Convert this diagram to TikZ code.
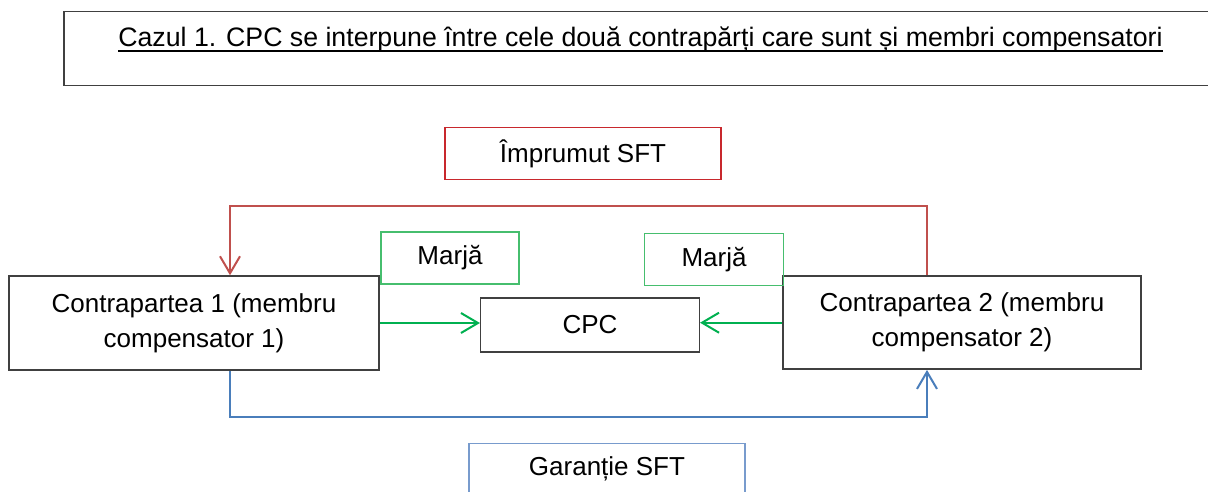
\documentclass[tikz,border=0pt]{standalone}
\usepackage{fontspec}
\setmainfont{Liberation Sans}
\usetikzlibrary{arrows.meta}

\definecolor{boxgray}{RGB}{64,64,64}
\definecolor{redbox}{RGB}{200,40,45}
\definecolor{redline}{RGB}{192,80,77}
\definecolor{greenbox}{RGB}{70,190,110}
\definecolor{greenline}{RGB}{0,176,80}
\definecolor{bluebox}{RGB}{120,155,205}
\definecolor{blueline}{RGB}{74,126,187}

\tikzset{
  box/.style={draw=boxgray, line width=1.5pt, inner sep=0pt, align=center,
              font=\fontsize{26}{35}\selectfont},
  redlabel/.style={box, draw=redbox},
  greenlabel/.style={box, draw=greenbox},
  bluelabel/.style={box, draw=bluebox},
  tip/.style={-{Straight Barb[length=17pt,width=20pt]}},
  redconn/.style={draw=redline, line width=2pt, tip},
  greenconn/.style={draw=greenline, line width=2pt, tip},
  blueconn/.style={draw=blueline, line width=2pt, tip},
}

\begin{document}
\begin{tikzpicture}[x=1pt, y=-1pt]
  \useasboundingbox (0,0) rectangle (1208,491);
  \clip (0,0) rectangle (1208,491);
  \fill[white] (0,0) rectangle (1208,491);

  % heading frame, running past the right edge
  \draw[boxgray, line width=1.5pt] (1230,11.7) -- (64,11.7) -- (64,85.7) -- (1230,85.7);
  \node[inner sep=0pt, anchor=base, font=\fontsize{26.7}{32}\selectfont]
    (title) at (640.5,46.7)
    {Cazul 1. CPC se interpune între cele două contrapărți care sunt și membri compensatori};
  \draw[black, line width=2pt] ([yshift=-4pt]title.base west) -- ([yshift=-4pt]title.base east);

  % counterparties and the central counterparty
  \node[box, minimum width=370pt, minimum height=94pt] (c1) at (194,323)
    {Contrapartea 1 (membru\\compensator 1)};
  \node[box, minimum width=358pt, minimum height=93pt] (c2) at (962,322.7)
    {Contrapartea 2 (membru\\compensator 2)};
  \node[box, minimum width=218.6pt, minimum height=54.3pt] (cpc) at (590,325) {CPC};

  % labels
  \node[redlabel, minimum width=275.7pt, minimum height=51.6pt] (loan) at (583,153.5) {Împrumut SFT};
  \node[greenlabel, minimum width=138.3pt, minimum height=52.3pt] (m1) at (450,258) {Marjă};
  \node[greenlabel, minimum width=138.6pt, minimum height=52.4pt] (m2) at (714,259.5) {Marjă};
  \node[bluelabel, minimum width=276pt, minimum height=52pt] (coll) at (607,469.3) {Garanție SFT};

  % routing points
  \coordinate (lx) at (230,0);
  \coordinate (rx) at (927,0);
  \coordinate (rtop) at (230,205.7);
  \coordinate (bbot) at (927,416.7);

  % securities loan: counterparty 2 -> counterparty 1
  \draw[redconn] (c2.north -| rx) |- (rtop) -- (c1.north -| rtop);
  % margin flows into the CPC
  \draw[greenconn] (c1.east) -- (c1.east -| cpc.west);
  \draw[greenconn] (c2.west) -- (c2.west -| cpc.east);
  % collateral: counterparty 1 -> counterparty 2
  \draw[blueconn] (c1.south -| lx) |- (bbot) -- (c2.south -| rx);
\end{tikzpicture}
\end{document}
